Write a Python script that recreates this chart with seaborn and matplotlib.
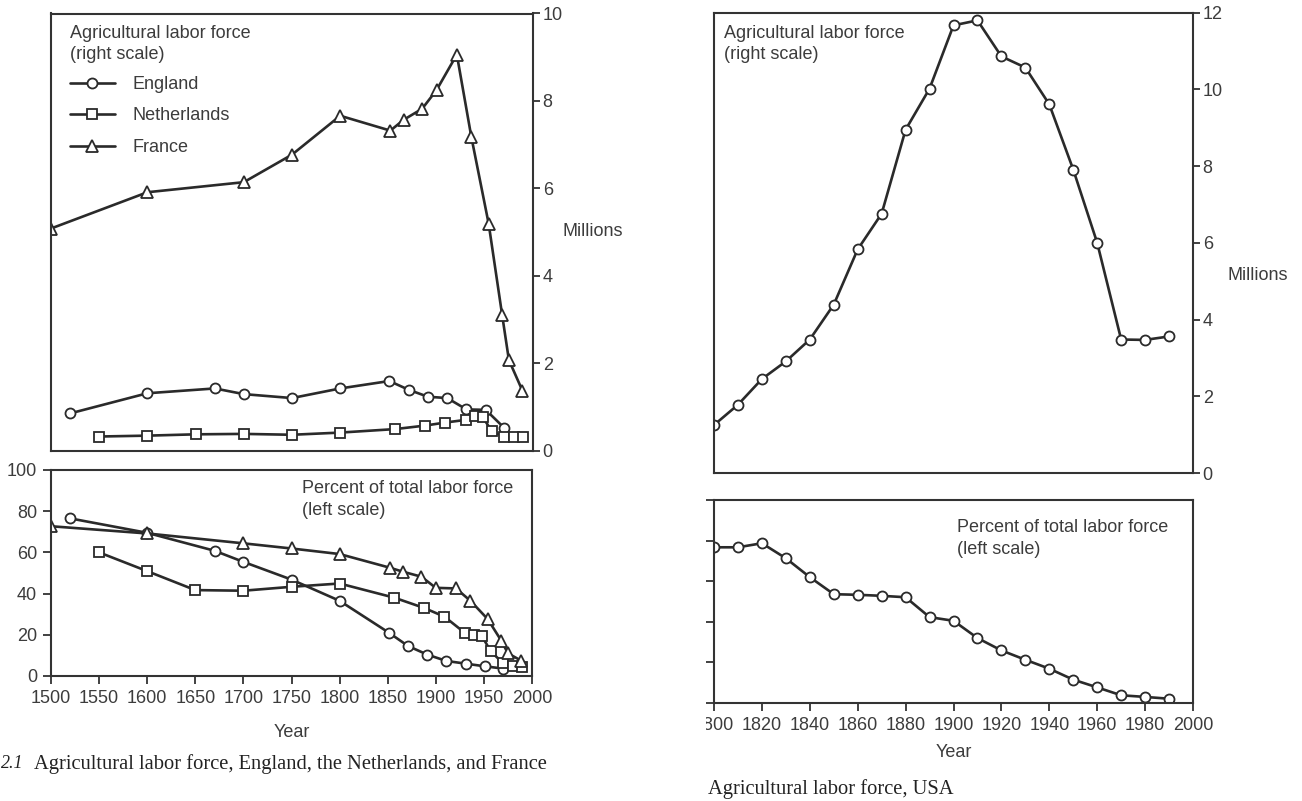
import matplotlib
matplotlib.use('Agg')
import matplotlib.pyplot as plt
from matplotlib.transforms import Bbox, TransformedBbox
import seaborn as sns

# England / Netherlands / France (left figure)
eng_years = [1520, 1600, 1670, 1700, 1750, 1800, 1851, 1871, 1891, 1911, 1931, 1951, 1970]
eng_mil = [0.85, 1.31, 1.42, 1.29, 1.20, 1.42, 1.59, 1.39, 1.23, 1.20, 0.94, 0.93, 0.52]
eng_pct = [76.5, 69.5, 60.8, 55.4, 46.8, 36.5, 21.1, 14.6, 10.4, 7.3, 6.0, 4.7, 3.6]

neth_years = [1550, 1600, 1650, 1700, 1750, 1800, 1857, 1888, 1909, 1930, 1940, 1948, 1957, 1970, 1980, 1990]
neth_mil = [0.32, 0.34, 0.37, 0.38, 0.36, 0.41, 0.49, 0.57, 0.64, 0.70, 0.80, 0.76, 0.45, 0.31, 0.31, 0.31]
neth_pct = [60.0, 50.9, 41.7, 41.4, 43.3, 44.9, 38.0, 33.0, 28.8, 21.0, 20.0, 19.4, 12.0, 6.2, 4.8, 4.3]

fra_years = [1500, 1600, 1700, 1750, 1800, 1852, 1866, 1885, 1900, 1921, 1936, 1954, 1968, 1975, 1989]
fra_mil = [5.08, 5.91, 6.14, 6.77, 7.66, 7.32, 7.57, 7.82, 8.25, 9.06, 7.18, 5.19, 3.10, 2.07, 1.37]
fra_pct = [72.7, 69.2, 64.4, 61.9, 59.2, 52.6, 50.6, 48.2, 42.8, 42.5, 36.5, 27.6, 17.2, 11.0, 7.4]

# USA (right figure)
usa_years = [1800, 1810, 1820, 1830, 1840, 1850, 1860, 1870, 1880, 1890,
             1900, 1910, 1920, 1930, 1940, 1950, 1960, 1970, 1980, 1990]
usa_mil = [1.25, 1.78, 2.45, 2.91, 3.48, 4.39, 5.83, 6.76, 8.95, 10.02,
           11.67, 11.80, 10.86, 10.57, 9.61, 7.91, 6.00, 3.48, 3.47, 3.56]
usa_pct = [76.7, 76.7, 78.7, 71.3, 62.0, 53.6, 53.3, 52.8, 52.1, 42.3,
           40.5, 32.0, 25.9, 21.3, 16.9, 11.5, 7.7, 3.8, 3.0, 2.1]

sns.set_style('white')
plt.rcParams['font.family'] = ['Liberation Sans', 'DejaVu Sans']

ink = '#2a2a2a'
txt = '#3c3c3c'
fs = 13
W, H = 1302, 801


def box(x0, y0, x1, y1):
    return [x0 / W, 1 - y1 / H, (x1 - x0) / W, (y1 - y0) / H]


def series(ax, x, y, marker, ms, label=None):
    sns.lineplot(x=x, y=y, ax=ax, marker=marker, color=ink, lw=1.9,
                 markerfacecolor='white', markeredgecolor=ink, markersize=ms,
                 markeredgewidth=1.3, errorbar=None, label=label, legend=False)


def frame(ax):
    for s in ax.spines.values():
        s.set_color('#333333')
        s.set_linewidth(1.5)
    ax.set_xlabel('')
    ax.set_ylabel('')


def note(ax, x, y, s):
    ax.text(x, y, s, transform=ax.transAxes, ha='left', va='top',
            fontsize=fs, color=txt, linespacing=1.35)


fig = plt.figure(figsize=(W / 100, H / 100), dpi=100)

# ---- left top: millions
ax1 = fig.add_axes(box(51, 13.5, 533, 450.5))
series(ax1, eng_years, eng_mil, 'o', 7.2, 'England')
series(ax1, neth_years, neth_mil, 's', 6.6, 'Netherlands')
series(ax1, fra_years, fra_mil, '^', 8.6, 'France')
ax1.set_xlim(1500, 2000)
ax1.set_ylim(0, 10)
ax1.set_xticks([])
ax1.yaxis.tick_right()
ax1.set_yticks([0, 2, 4, 6, 8, 10])
ax1.tick_params(axis='y', direction='out', length=5, width=1.3, color='#333333',
                labelsize=fs, labelcolor=txt, pad=2, right=True, left=False)
frame(ax1)
note(ax1, 0.039, 0.974, 'Agricultural labor force\n(right scale)')
ax1.text(1.062, 0.5, 'Millions', transform=ax1.transAxes, ha='left', va='center',
         fontsize=fs, color=txt)
ax1.legend(loc='upper left', bbox_to_anchor=(0.039, 0.857), frameon=False, fontsize=fs,
           handlelength=2.5, handletextpad=0.95, labelspacing=0.8, borderpad=0,
           borderaxespad=0, labelcolor=txt)

# ---- left bottom: percent
ax2 = fig.add_axes(box(51, 470, 532, 676))
series(ax2, eng_years, eng_pct, 'o', 7.2)
series(ax2, neth_years, neth_pct, 's', 6.6)
series(ax2, fra_years, fra_pct, '^', 8.6)
ax2.set_xlim(1500, 2000)
ax2.set_ylim(0, 100)
ax2.set_xticks(list(range(1500, 2001, 50)))
ax2.set_yticks([0, 20, 40, 60, 80, 100])
ax2.tick_params(axis='both', direction='out', length=6, width=1.3, color='#333333',
                labelsize=fs, labelcolor=txt, pad=4, bottom=True, left=True)
frame(ax2)
ax2.set_xlabel('Year', fontsize=fs, color=txt, labelpad=12)
note(ax2, 0.522, 0.95, 'Percent of total labor force\n(left scale)')

# ---- right top: USA millions
ax3 = fig.add_axes(box(714, 12.7, 1193, 473))
series(ax3, usa_years, usa_mil, 'o', 7.2)
ax3.set_xlim(1800, 2000)
ax3.set_ylim(0, 12)
ax3.set_xticks([])
ax3.yaxis.tick_right()
ax3.set_yticks([0, 2, 4, 6, 8, 10, 12])
ax3.tick_params(axis='y', direction='out', length=5, width=1.3, color='#333333',
                labelsize=fs, labelcolor=txt, pad=2, right=True, left=False)
frame(ax3)
note(ax3, 0.021, 0.974, 'Agricultural labor force\n(right scale)')
ax3.text(1.073, 0.43, 'Millions', transform=ax3.transAxes, ha='left', va='center',
         fontsize=fs, color=txt)

# ---- right bottom: USA percent
ax4 = fig.add_axes(box(714, 500, 1193, 703))
series(ax4, usa_years, usa_pct, 'o', 7.2)
ax4.set_xlim(1800, 2000)
ax4.set_ylim(0, 100)
ax4.set_xticks(list(range(1800, 2001, 20)))
ax4.set_yticks([0, 20, 40, 60, 80, 100])
ax4.set_yticklabels([])
ax4.tick_params(axis='both', direction='out', length=6, width=1.3, color='#333333',
                labelsize=fs, labelcolor=txt, pad=4, bottom=True, left=True)
frame(ax4)
ax4.set_xlabel('Year', fontsize=fs, color=txt, labelpad=7)
note(ax4, 0.507, 0.905, 'Percent of total labor force\n(left scale)')

# the scan cuts off the left part of the "1800" label
lbl = ax4.get_xticklabels()[0]
lbl.set_clip_box(TransformedBbox(Bbox.from_extents(706 / W, 0, 1, 1), fig.transFigure))
lbl.set_clip_on(True)

# captions (serif, as in the book)
serif = ['Liberation Serif', 'DejaVu Serif']
cap = 14.8
fig.text(1 / W, 1 - 764 / H, '2.1', ha='left', va='center', fontsize=13,
         style='italic', family=serif, color='#222222')
fig.text(34 / W, 1 - 764 / H, 'Agricultural labor force, England, the Netherlands, and France',
         ha='left', va='center', fontsize=cap, family=serif, color='#222222')
fig.text(708 / W, 1 - 789 / H, 'Agricultural labor force, USA',
         ha='left', va='center', fontsize=cap, family=serif, color='#222222')

fig.savefig('out.png', dpi=100, facecolor='white')
